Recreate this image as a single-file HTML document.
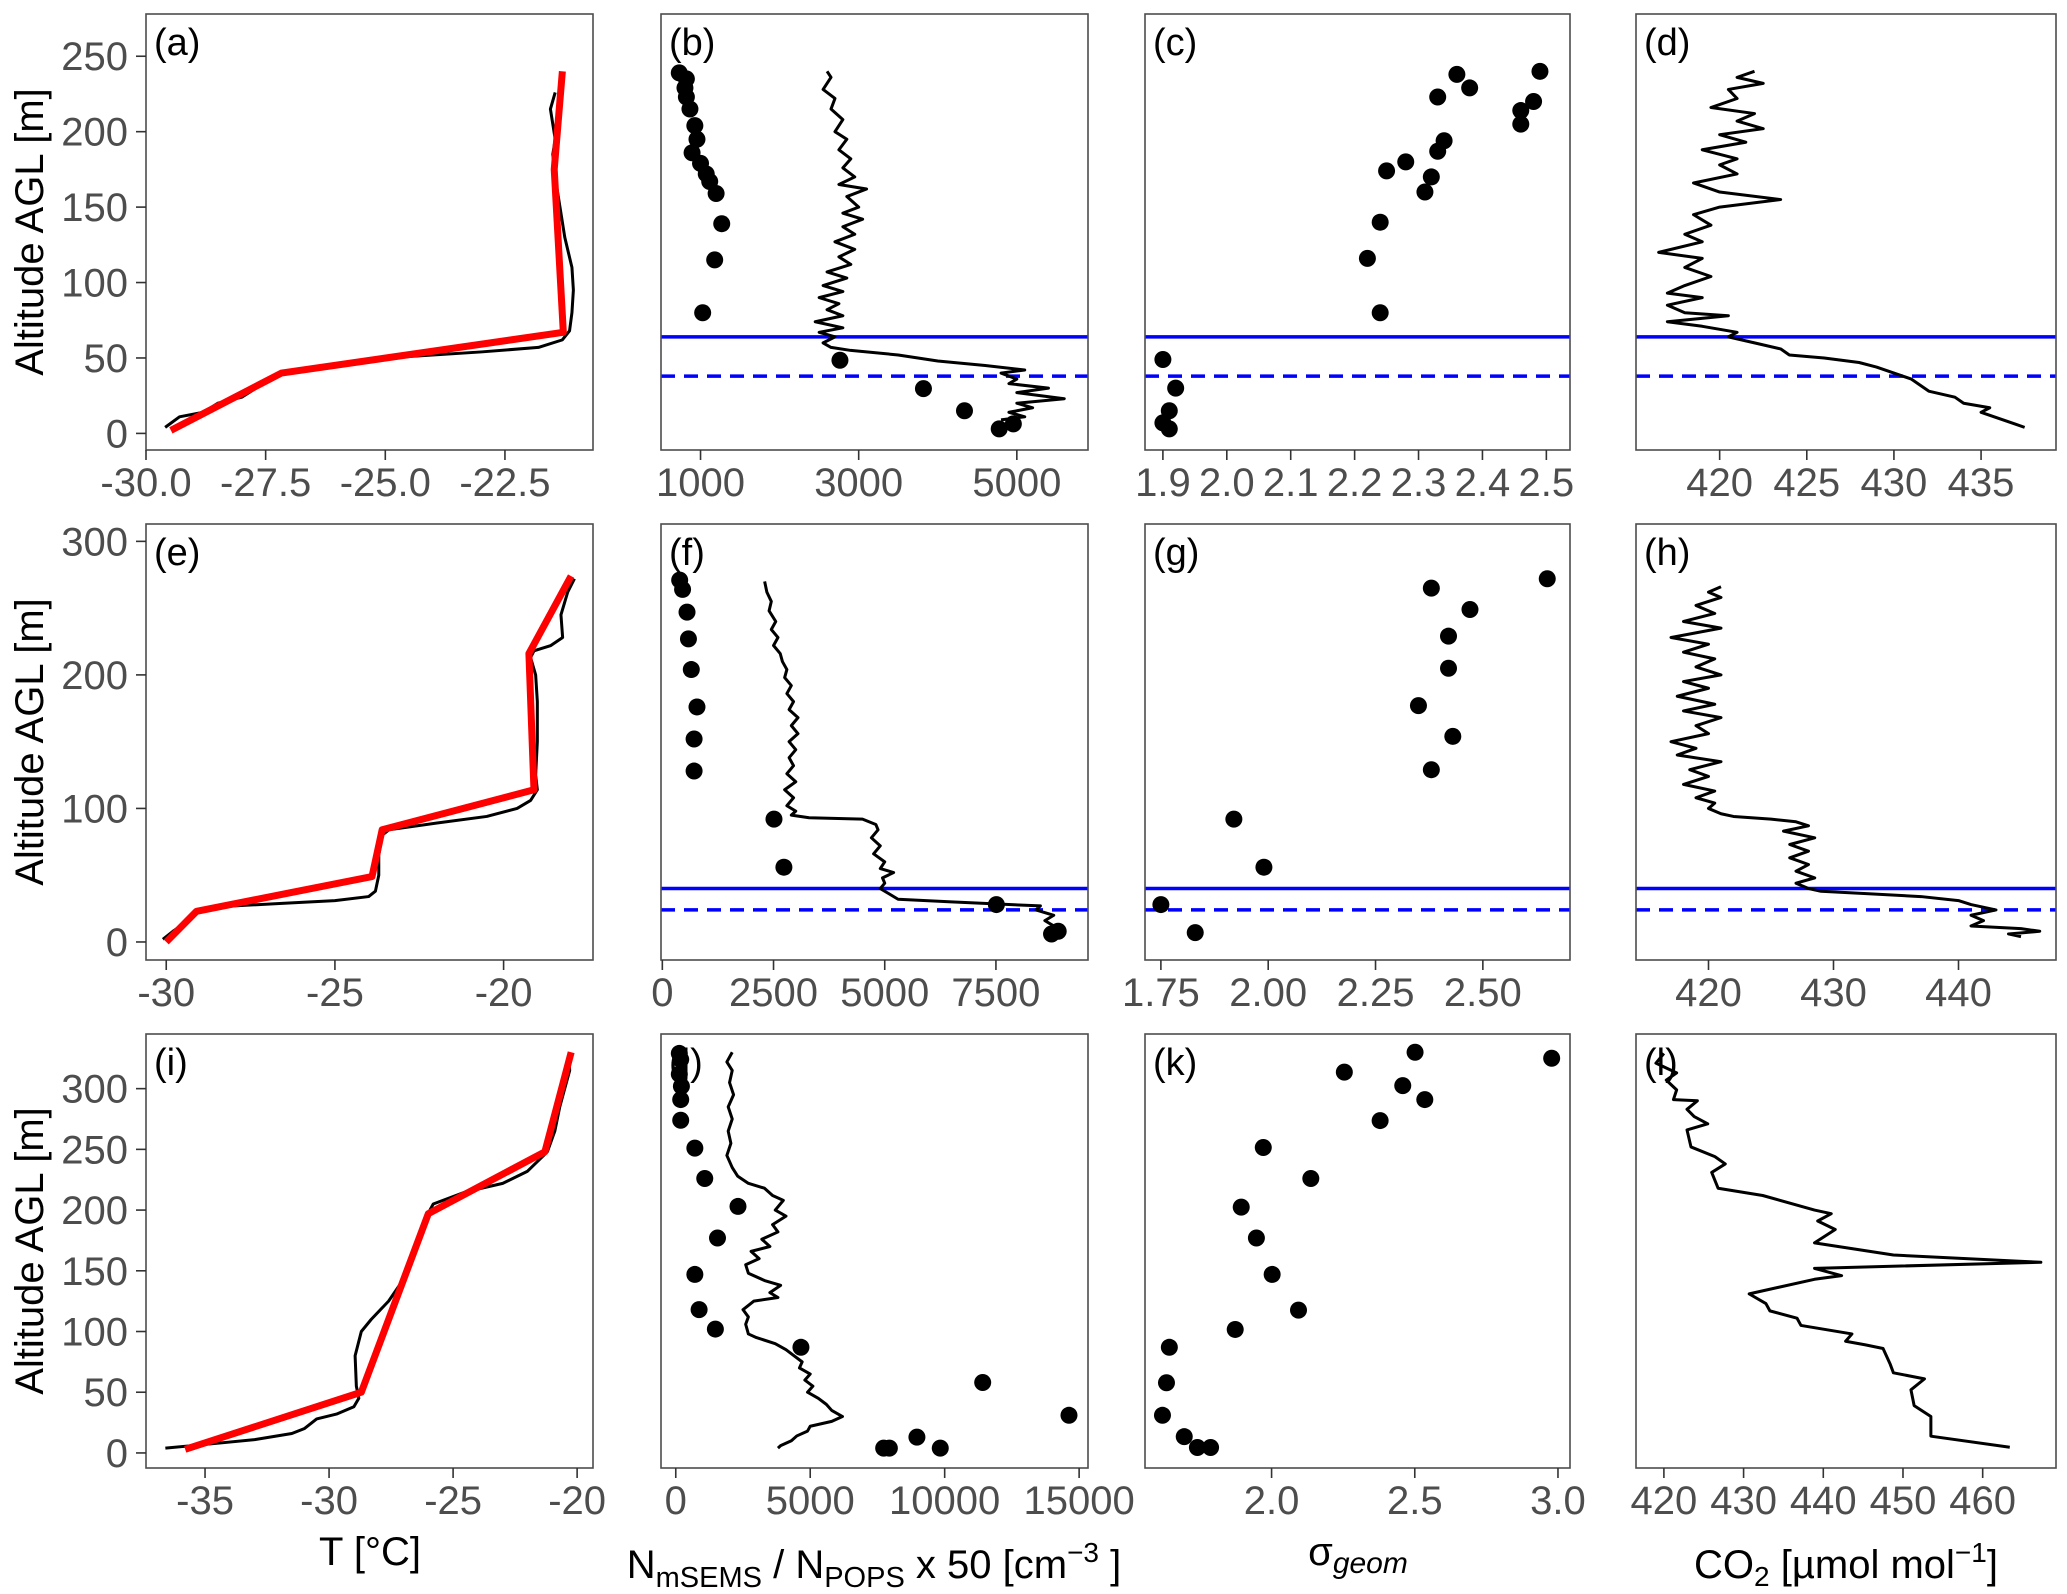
<!DOCTYPE html>
<html><head><meta charset="utf-8"><style>
html,body{margin:0;padding:0;background:#fff;}
svg{display:block;font-family:"Liberation Sans",Arial,sans-serif;}
</style></head><body>
<svg id="fig" width="2067" height="1594" viewBox="0 0 2067 1594" xmlns="http://www.w3.org/2000/svg"></svg>
<script>
// ---------- data ----------
const aBlack=[[-29.6,4],[-29.3,11],[-28.8,14],[-28.5,20],[-28.0,24],[-27.6,32],[-27.2,40],[-26.7,43],[-25.5,48],[-24.5,51],[-23.0,54],[-21.8,57],[-21.3,62],[-21.15,68],[-21.1,80],[-21.07,95],[-21.1,110],[-21.25,130],[-21.35,150],[-21.45,170],[-21.5,185],[-21.45,195],[-21.5,205],[-21.55,215],[-21.45,226]];
const aRed=[[-29.48,2],[-27.17,40],[-21.28,67],[-21.47,175],[-21.3,240]];
const bDots=[[731,239],[821,235],[803,229],[821,223],[866,215],[928,204],[955,195],[893,186],[1000,179],[1072,172],[1116,167],[1197,159],[1268,139],[1179,115],[1027,80],[2763,48.5],[3819,29.7],[4338,15],[4956,6.3],[4777,3]];
const bLine=[[2600,240],[2650,236],[2550,228],[2700,222],[2650,215],[2800,208],[2700,200],[2850,195],[2750,188],[2900,182],[2800,176],[2950,170],[2750,165],[3100,162],[2850,157],[3000,150],[2800,146],[3050,142],[2800,137],[2950,132],[2700,127],[2950,122],[2750,117],[2900,112],[2600,107],[2850,103],[2550,98],[2800,94],[2500,90],[2750,86],[2600,82],[2800,78],[2450,74],[2800,70],[2500,67],[2700,64],[2550,60],[2650,57],[2900,55],[3500,52],[4000,48],[4600,45],[5100,42],[4800,40],[5000,36],[4900,33],[5400,30],[5000,27],[5600,23],[5000,20],[5200,17],[4900,14],[5100,11],[4800,9]];
const cDots=[[2.49,240],[2.36,238],[2.38,229],[2.48,220],[2.33,223],[2.46,214],[2.46,205],[2.34,194],[2.33,187],[2.28,180],[2.25,174],[2.32,170],[2.31,160],[2.24,140],[2.22,116],[2.24,80],[1.90,49],[1.92,30],[1.91,15],[1.90,7],[1.91,3]];
const dLine=[[422,240],[421,236],[422.5,232],[420.5,228],[421,222],[419.5,216],[422,212],[421,207],[422.5,202],[420,198],[421.5,193],[419,188],[421,182],[420,178],[421,172],[418.5,166],[420,160],[423.5,155],[420,150],[418.5,145],[419.5,138],[418,132],[419,127],[416.5,120],[419,116],[418,110],[419.5,104],[418,98],[417,93],[419,90],[417,85],[418,80],[420.5,78],[417,74],[419,71],[421,67],[420.5,64],[422,60],[423.5,56],[424,52],[426,50],[428,47],[429,44],[430,40],[431,36],[431.5,32],[432,28],[433.5,24],[434,20],[435.5,17],[435,14],[436,10],[437,6],[437.5,4]];
const eBlack=[[-30.1,2],[-29.8,8],[-29.4,15],[-29.0,24],[-28.0,27],[-26.5,29],[-25,31],[-24,34],[-23.8,38],[-23.75,44],[-23.7,50],[-23.7,65],[-23.6,80],[-23.4,84],[-22,89],[-20.5,94],[-19.6,100],[-19.2,106],[-19.0,114],[-19.05,125],[-19.0,150],[-19.0,180],[-19.05,200],[-19.2,213],[-19.1,218],[-18.6,222],[-18.25,228],[-18.3,245],[-18.1,262],[-17.9,272]];
const eRed=[[-30,0],[-29.1,23],[-23.9,49],[-23.6,84],[-19.1,114],[-19.25,216],[-18.0,274]];
const fDots=[[390,271],[455,264],[555,247],[587,227],[651,204],[779,176],[714,152],[714,128],[2510,92],[2733,56],[7510,28],[8900,8],[8750,6]];
const fLine=[[2300,270],[2350,262],[2450,255],[2400,248],[2550,240],[2450,234],[2600,228],[2500,222],[2650,216],[2700,210],[2800,204],[2750,198],[2900,192],[2800,186],[2950,180],[2850,174],[3050,168],[2900,162],[3050,156],[2850,150],[3000,144],[2850,138],[2950,132],[2800,126],[3000,120],[2750,114],[2950,108],[2800,102],[3000,98],[2900,95],[3300,93],[4500,92],[4800,88],[4850,84],[4700,78],[4900,72],[4750,66],[5000,60],[4900,55],[5200,52],[4950,48],[5000,44],[4900,40],[5100,36],[5300,32],[6500,30],[8500,27],[8400,24],[8800,20],[8600,16],[8800,12],[8900,9],[8700,6],[8900,4]];
const gDots=[[2.65,272],[2.38,265],[2.47,249],[2.42,229],[2.42,205],[2.35,177],[2.43,154],[2.38,129],[1.92,92],[1.99,56],[1.75,28],[1.83,7]];
const hLine=[[421,266],[420,262],[421,258],[419,252],[420.5,246],[418,240],[421,235],[417,228],[420,223],[418,217],[420.5,212],[419,206],[421,200],[418,195],[420,190],[417.5,184],[420.5,178],[418,173],[421,168],[419,162],[420,156],[417,150],[419,145],[417.5,140],[421,135],[418.5,129],[420,124],[418,118],[420.5,113],[419,108],[420.5,104],[420,100],[421,96],[422,94],[425,92],[427,90],[428,87],[426,83],[428.5,78],[426.5,73],[428,68],[426.5,63],[428,58],[427,53],[428.5,48],[427,44],[428,40],[429,38],[433,36],[437,34],[440,31],[441,28],[443,24],[441,20],[442,16],[441,12],[445,10],[446.5,8],[444,6],[445,4]];
const iBlack=[[-36.6,4],[-35,7],[-33,11],[-31.5,16],[-31,20],[-30.5,28],[-29.7,32],[-29,38],[-28.8,45],[-28.9,55],[-28.95,80],[-28.7,100],[-28.3,110],[-27.6,125],[-27.1,140],[-26.8,150],[-26.5,170],[-26.2,190],[-25.8,205],[-24.5,215],[-23,222],[-22,232],[-21.2,248],[-20.9,265],[-20.7,285],[-20.5,300],[-20.3,315],[-20.35,328]];
const iRed=[[-35.8,3],[-28.7,50],[-26.0,197],[-21.3,248],[-20.24,330]];
const jDots=[[132,329],[184,324],[132,312],[210,302],[184,291],[184,274],[710,251],[1078,226],[2314,203],[1552,177],[710,147],[868,118],[1473,102],[4655,87],[11414,58],[14623,31],[8968,13],[7732,4],[7943,4],[9836,4]];
const jLine=[[2100,330],[1900,322],[2100,315],[2000,305],[2150,295],[1950,285],[2100,275],[1950,265],[2050,255],[1900,245],[2100,235],[2300,228],[2700,222],[3300,218],[3600,212],[4000,208],[3700,200],[4100,195],[3600,188],[3800,182],[3200,176],[3500,170],[2800,166],[3100,160],[2600,155],[2700,148],[3300,142],[3900,138],[3500,132],[3800,128],[2900,125],[2500,118],[2700,112],[2600,106],[2700,98],[3000,95],[3700,90],[4100,85],[4400,80],[4700,75],[4600,70],[5000,65],[4800,60],[5100,55],[4900,50],[5300,45],[5600,40],[5800,35],[6200,30],[5800,26],[5000,22],[4900,18],[4500,14],[4300,10],[3900,6],[3800,4]];
const kDots=[[2.501,330],[2.978,325],[2.254,313.6],[2.458,302.5],[2.535,291],[2.379,273.7],[1.971,251.5],[2.137,226],[1.894,202.4],[1.947,177],[2.002,147],[2.094,117.6],[1.873,101.7],[1.643,87],[1.633,57.8],[1.619,31],[1.695,13.4],[1.741,4.5],[1.787,4.5]];
const lLine=[[420,329],[419,321],[421.6,313],[420.3,307],[421.6,299],[421.2,291],[424.2,290],[422.9,283],[423.8,277],[425.5,271],[422.9,266],[423.4,252],[426.4,244],[427.7,238],[426,231],[426.8,218],[432.4,212],[438.9,200],[441,197],[439.3,191],[441.5,184],[438.9,173],[448.8,163],[464.3,158],[467.3,157],[438.9,152],[442.3,146],[438.9,143],[430.7,131],[432.8,123],[433.3,117],[436.7,111],[437.2,105],[443.6,98],[442.8,92],[445.3,89],[447.5,86],[448.4,73],[448.8,66],[452.7,61],[451,52],[451.4,39],[453.5,30],[453.5,13.8],[463.4,4.7]];
const blueSolid=[64,40];
const blueDashed=[38,24];
const xTicksA=[-30,-27.5,-25,-22.5], xTicksB=[1000,3000,5000], xTicksC=[1.9,2.0,2.1,2.2,2.3,2.4,2.5], xTicksD=[420,425,430,435];
const xTicksE=[-30,-25,-20], xTicksF=[0,2500,5000,7500], xTicksG=[1.75,2.0,2.25,2.5], xTicksH=[420,430,440];
const xTicksI=[-35,-30,-25,-20], xTicksJ=[0,5000,10000,15000], xTicksK=[2.0,2.5,3.0], xTicksL=[420,430,440,450,460];
const yTicks1=[0,50,100,150,200,250], yTicks2=[0,100,200,300], yTicks3=[0,50,100,150,200,250,300];

// ---------- layout ----------
const cols=[[146,593],[661,1088],[1145,1570],[1636,2056]];
const rows=[[14,450],[524,960],[1034,1468]];
const NS="http://www.w3.org/2000/svg";
const svg=document.getElementById('fig');
function mk(tag,attrs,parent){const e=document.createElementNS(NS,tag);for(const k in attrs)e.setAttribute(k,attrs[k]);(parent||svg).appendChild(e);return e;}

const panels=[
 {id:'a',r:0,c:0,xl:[-30.0,-20.66],yl:[-11,278],xt:xTicksA,fmt:v=>v.toFixed(1),yt:yTicks1,black:aBlack,red:aRed},
 {id:'b',r:0,c:1,xl:[500,5900],yl:[-11,278],xt:xTicksB,fmt:v=>String(v),dots:bDots,black:bLine,blue:0},
 {id:'c',r:0,c:2,xl:[1.872,2.537],yl:[-11,278],xt:xTicksC,fmt:v=>v.toFixed(1),dots:cDots,blue:0},
 {id:'d',r:0,c:3,xl:[415.2,439.3],yl:[-11,278],xt:xTicksD,fmt:v=>String(v),black:dLine,blue:0},
 {id:'e',r:1,c:0,xl:[-30.6,-17.35],yl:[-13.5,313],xt:xTicksE,fmt:v=>String(v),yt:yTicks2,black:eBlack,red:eRed},
 {id:'f',r:1,c:1,xl:[-30,9570],yl:[-13.5,313],xt:xTicksF,fmt:v=>String(v),dots:fDots,black:fLine,blue:1},
 {id:'g',r:1,c:2,xl:[1.713,2.703],yl:[-13.5,313],xt:xTicksG,fmt:v=>v.toFixed(2),dots:gDots,blue:1},
 {id:'h',r:1,c:3,xl:[414.2,447.8],yl:[-13.5,313],xt:xTicksH,fmt:v=>String(v),black:hLine,blue:1},
 {id:'i',r:2,c:0,xl:[-37.38,-19.36],yl:[-12.4,345],xt:xTicksI,fmt:v=>String(v),yt:yTicks3,black:iBlack,red:iRed},
 {id:'j',r:2,c:1,xl:[-549,15330],yl:[-12.4,345],xt:xTicksJ,fmt:v=>String(v),dots:jDots,black:jLine},
 {id:'k',r:2,c:2,xl:[1.558,3.042],yl:[-12.4,345],xt:xTicksK,fmt:v=>v.toFixed(1),dots:kDots},
 {id:'l',r:2,c:3,xl:[416.5,469.2],yl:[-12.4,345],xt:xTicksL,fmt:v=>String(v),black:lLine}
];

panels.forEach(p=>{
  const [x0,x1]=cols[p.c],[y0,y1]=rows[p.r];
  const sx=v=>x0+(v-p.xl[0])/(p.xl[1]-p.xl[0])*(x1-x0);
  const sy=v=>y1-(v-p.yl[0])/(p.yl[1]-p.yl[0])*(y1-y0);
  const g=mk('g',{});
  
  
  const clipId='clip'+p.id;
  const cp=mk('clipPath',{id:clipId},g);
  mk('rect',{x:x0,y:y0,width:x1-x0,height:y1-y0},cp);
  const plot=mk('g',{'clip-path':'url(#'+clipId+')'},g);
  if(p.blue!==undefined){
    const bs=mk('line',{x1:x0,x2:x1,y1:sy(blueSolid[p.blue]),y2:sy(blueSolid[p.blue]),stroke:'#0000ff','stroke-width':3.5},plot);
    
    
    const bd=mk('line',{x1:x0,x2:x1,y1:sy(blueDashed[p.blue]),y2:sy(blueDashed[p.blue]),stroke:'#0000ff','stroke-width':3.5,'stroke-dasharray':'14 9'},plot);
    
    
  }
  if(p.black){
    const pl=mk('polyline',{points:p.black.map(d=>sx(d[0])+','+sy(d[1])).join(' '),fill:'none',stroke:'#000','stroke-width':3,'stroke-linejoin':'round'},plot);
    
    
  }
  if(p.red){
    const rl=mk('polyline',{points:p.red.map(d=>sx(d[0])+','+sy(d[1])).join(' '),fill:'none',stroke:'#ff0000','stroke-width':7,'stroke-linejoin':'round'},plot);
    
    
  }
  if(p.dots){
    p.dots.forEach(d=>{
      const c=mk('circle',{cx:sx(d[0]),cy:sy(d[1]),r:8.5,fill:'#000'},plot);
      
      
    });
  }
  const fr=mk('rect',{x:x0,y:y0,width:x1-x0,height:y1-y0,fill:'none',stroke:'#4d4d4d','stroke-width':1.6},g);
  
  
  const lab=mk('text',{x:x0+8,y:y0+41,'font-size':38,fill:'#000'},g);
  lab.textContent='('+p.id+')';
  
  
  p.xt.forEach(v=>{
    const X=sx(v);
    mk('line',{x1:X,x2:X,y1:y1,y2:y1+10,stroke:'#333','stroke-width':1.6},g);
    const t=mk('text',{x:X,y:y1+46,'font-size':40,fill:'#4d4d4d','text-anchor':'middle'},g);
    t.textContent=p.fmt(v);
    
    
  });
  if(p.yt){
    p.yt.forEach(v=>{
      const Y=sy(v);
      mk('line',{x1:x0-10,x2:x0,y1:Y,y2:Y,stroke:'#333','stroke-width':1.6},g);
      const t=mk('text',{x:x0-18,y:Y+14,'font-size':40,fill:'#4d4d4d','text-anchor':'end'},g);
      t.textContent=String(v);
      
      
    });
    const yc=(y0+y1)/2;
    const yt=mk('text',{x:0,y:0,'font-size':40,fill:'#000','text-anchor':'middle',transform:'translate(43,'+yc+') rotate(-90)'},g);
    yt.textContent='Altitude AGL [m]';
    
    
  }
});
</script>
<svg width="2067" height="1594" style="position:absolute;left:0;top:0" xmlns="http://www.w3.org/2000/svg" font-family="Liberation Sans, Arial, sans-serif" font-size="40">
  <text x="370" y="1565" text-anchor="middle">T [°C]</text>
  <text x="874" y="1578" text-anchor="middle">N<tspan font-size="29" dy="9">mSEMS</tspan><tspan dy="-9"> / N</tspan><tspan font-size="29" dy="9">POPS</tspan><tspan dy="-9"> x 50 [cm</tspan><tspan font-size="28" dy="-16">−3</tspan><tspan dy="16"> ]</tspan></text>
  <text x="1358" y="1565" text-anchor="middle">σ<tspan font-size="30" font-style="italic" dy="8">geom</tspan></text>
  <text x="1846" y="1578" text-anchor="middle">CO<tspan font-size="28" dy="8">2</tspan><tspan dy="-8"> [µmol mol</tspan><tspan font-size="28" dy="-16">−1</tspan><tspan dy="16">]</tspan></text>
</svg>
</body></html>
